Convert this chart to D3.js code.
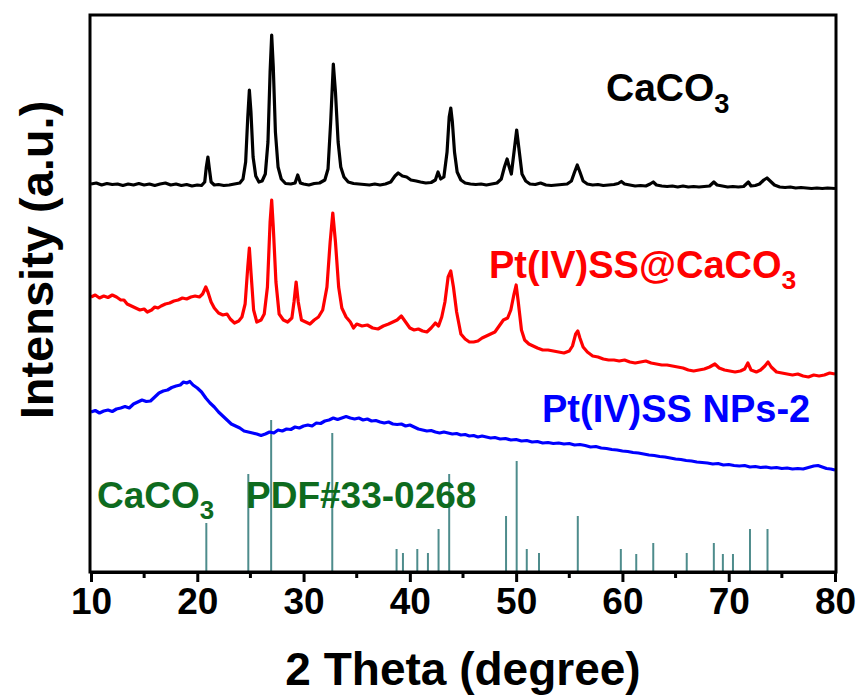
<!DOCTYPE html>
<html>
<head>
<meta charset="utf-8">
<script src="https://cdn.jsdelivr.net/npm/d3@7"></script>
<style>
  html, body { margin: 0; padding: 0; background: #fff; }
  svg { display: block; font-family: "Liberation Sans", Arial, sans-serif; font-weight: bold; }
</style>
</head>
<body>
<svg id="chart" width="862" height="696"></svg>
<script>
// ---------- DATA ----------
const xTicks = [10, 20, 30, 40, 50, 60, 70, 80];
const xMinorTicks = [15, 25, 35, 45, 55, 65, 75];

// CaCO3 (black) : [2theta, intensity a.u.]
const caco3 = [
[10,388],[10.5,389],[11,387],[11.5,388.5],[12,387.5],[12.5,388],[13,386.5],[13.5,388],[14,387],[14.5,388.5],
[15,387],[15.5,388],[16,386.5],[16.5,388],[17,389],[17.5,387],[18,388],[18.5,386.5],[19,387.5],[19.5,386],
[20,387],[20.4,386.5],[20.7,390],[20.85,405],[21.0,415],[21.15,402],[21.3,390],[21.6,387],[22,387.5],[22.5,386.5],
[23,387],[23.5,388],[24,389],[24.3,393],[24.55,410],[24.75,455],[24.9,482],[25.05,460],[25.25,415],[25.5,396],
[25.8,390],[26.1,391],[26.4,398],[26.65,430],[26.85,500],[27.0,537],[27.15,505],[27.35,440],[27.6,405],[27.9,393],
[28.3,388.5],[28.8,388],[29.2,389],[29.45,397],[29.7,389],[30.0,388],[30.5,387],[31,388.5],[31.5,389],[32,392],
[32.3,403],[32.55,450],[32.8,508],[33.0,480],[33.25,430],[33.5,405],[33.8,395],[34.2,390],[34.7,388.5],[35.2,388],
[35.7,387.5],[36.2,387],[36.7,388],[37.2,387],[37.7,388],[38.2,390],[38.6,396],[38.9,399],[39.3,396],[39.7,395],
[40.1,392],[40.6,391],[41,390],[41.5,389],[42,389.5],[42.4,392],[42.65,400],[42.9,393],[43.2,395],[43.5,420],
[43.7,455],[43.85,464],[44.0,450],[44.2,420],[44.45,400],[44.8,392],[45.2,389],[45.7,388],[46.2,387.5],[46.7,388],
[47.2,387],[47.7,388],[48.2,389],[48.6,393],[48.9,405],[49.15,413],[49.35,405],[49.55,398],[49.8,420],[50.05,442],
[50.3,420],[50.55,398],[50.9,391],[51.3,388],[51.8,387.5],[52.3,389],[52.8,387],[53.3,386.5],[53.8,387],[54.3,387.5],
[54.8,388],[55.2,391],[55.5,400],[55.75,407],[56.0,400],[56.3,391],[56.7,388],[57.2,387],[57.7,387.5],[58.2,386.5],
[58.7,387],[59.2,387.5],[59.6,388.5],[59.9,390.5],[60.2,388],[60.7,387],[61.2,386],[61.7,386.5],[62.2,386],[62.6,388],
[62.9,390],[63.2,387],[63.7,386],[64.2,385.5],[64.7,386],[65.2,385],[65.7,386],[66.2,385],[66.7,385.5],[67.2,385],
[67.7,385.5],[68.2,386],[68.6,390],[68.9,387],[69.4,386],[69.9,385],[70.4,385.5],[70.9,385],[71.4,385.5],[71.85,390],
[72.1,386],[72.5,386.5],[72.9,388],[73.3,392],[73.6,394],[73.9,391],[74.3,387],[74.8,385],[75.3,384.5],[75.8,385],
[76.3,384],[76.8,384.5],[77.3,384],[77.8,383.5],[78.3,384],[78.8,383.5],[79.3,384],[80,383.5]
];

// Pt(IV)SS@CaCO3 (red)
const ptssCaco3 = [
[10,275],[10.4,277],[10.8,274],[11.2,276],[11.6,274.5],[12.0,277],[12.4,275],[12.8,272],[13.1,272],[13.4,268],
[13.8,266],[14.2,264],[14.6,262],[15.0,263],[15.3,260],[15.7,262],[16.0,265],[16.3,264],[16.6,266],[17.0,268],
[17.4,269],[17.8,271],[18.2,272],[18.6,274],[19.0,273],[19.4,275],[19.8,276],[20.2,275],[20.5,278],[20.8,285],
[21.0,280],[21.3,270],[21.6,264],[22.0,259],[22.4,257],[22.8,258],[23.1,253],[23.5,249],[23.9,251],[24.2,255],
[24.5,268],[24.75,305],[24.9,324],[25.05,300],[25.3,262],[25.6,250],[26.0,252],[26.3,258],[26.6,285],[26.85,350],
[27.0,372],[27.15,345],[27.4,290],[27.7,258],[28.1,252],[28.5,250],[28.9,254],[29.1,270],[29.3,290],[29.5,270],
[29.8,252],[30.2,250],[30.6,248],[31.0,252],[31.4,255],[31.8,262],[32.2,285],[32.5,330],[32.75,359],[33.0,330],
[33.3,285],[33.6,264],[34.0,255],[34.4,250],[34.7,244],[35.0,248],[35.5,246],[36.0,247],[36.5,244],[37.0,243],
[37.5,246],[38.0,248],[38.4,250],[38.8,252],[39.2,256],[39.6,250],[40.0,244],[40.4,242],[40.8,243],[41.2,241],
[41.6,240],[42.0,244],[42.4,249],[42.7,246],[43.0,255],[43.3,270],[43.6,295],[43.85,301],[44.1,285],[44.4,260],
[44.8,238],[45.2,233],[45.6,230],[46.0,230],[46.4,231],[46.8,234],[47.2,236],[47.6,238],[48.0,240],[48.4,246],
[48.8,252],[49.2,254],[49.5,262],[49.8,278],[50.0,287],[50.2,270],[50.5,242],[50.8,232],[51.2,228],[51.6,226],
[52.0,224],[52.5,222],[53.0,222],[53.5,221],[54.0,220],[54.5,219],[55.0,221],[55.3,226],[55.6,238],[55.8,241],
[56.0,234],[56.3,225],[56.7,220],[57.2,216],[57.7,215],[58.2,213],[58.7,212],[59.2,212],[59.7,211],[60.2,212],
[60.7,210],[61.2,209],[61.7,210],[62.2,211],[62.7,209],[63.2,208],[63.7,207],[64.2,207],[64.7,206],[65.2,205],
[65.7,204],[66.2,202],[66.7,201],[67.2,202],[67.7,203],[68.2,205],[68.7,208],[69.1,204],[69.6,202],[70.1,201],
[70.6,200],[71.1,201],[71.5,203],[71.8,209],[72.1,202],[72.6,200],[73.0,202],[73.4,206],[73.7,210],[74.0,205],
[74.5,200],[75.0,199],[75.5,198],[76.0,197],[76.5,198],[77.0,196],[77.5,195],[78.0,197],[78.5,196],[79.0,197],
[79.5,199],[80.0,198]
];

// Pt(IV)SS NPs-2 (blue)
const ptssNps = [
[10,160],[10.4,161.5],[10.8,159],[11.2,161],[11.6,162],[12.0,160.5],[12.4,163],[12.8,164],[13.2,165.5],[13.6,164],
[14.0,168],[14.4,170],[14.8,172],[15.2,170.5],[15.6,171],[16.0,175],[16.4,179],[16.8,181],[17.2,182],[17.6,184.5],
[18.0,186],[18.4,187],[18.7,190],[19.0,189],[19.3,190.5],[19.6,187],[20.0,184],[20.4,180],[20.8,174],[21.2,169],
[21.6,165],[22.0,160],[22.4,156],[22.8,152],[23.2,148],[23.6,146],[24.0,144],[24.4,141],[24.8,140],[25.2,139],
[25.6,138],[26.0,136.5],[26.4,138],[26.8,140],[27.2,139],[27.6,142],[28.0,141],[28.4,143],[28.8,142.5],[29.2,145],
[29.6,144],[30.0,146],[30.4,147],[30.8,146],[31.2,149],[31.6,148.5],[32.0,151],[32.4,152],[32.8,154],[33.2,152.5],
[33.6,154],[34.0,155.5],[34.4,154],[34.8,153],[35.2,154],[35.6,152],[36.0,153],[36.4,151],[36.8,151.5],[37.2,150],
[37.6,149],[38.0,150],[38.4,148],[38.8,147.5],[39.2,148],[39.6,146],[40.0,147],[40.4,145],[40.8,143],[41.2,142],
[41.6,141],[42.0,141.5],[42.4,140],[42.8,139],[43.2,140],[43.6,139],[44.0,138],[44.4,138.5],[44.8,137],[45.2,137.5],
[45.6,136],[46.0,136.5],[46.4,135],[46.8,136],[47.2,135],[47.6,134],[48.0,134.5],[48.5,133],[49.0,133.5],[49.5,132],
[50.0,132.5],[50.5,131],[51.0,131.5],[51.5,130],[52.0,130.5],[52.5,129],[53.0,129.5],[53.5,128.5],[54.0,129],[54.5,128],
[55.0,128.5],[55.5,127],[56.0,127.5],[56.5,126.5],[57.0,125],[57.5,125.5],[58.0,124],[58.5,123.5],[59.0,122.5],[59.5,122],
[60.0,121],[60.5,120.5],[61.0,119.5],[61.5,119],[62.0,118],[62.5,117],[63.0,116.5],[63.5,115.5],[64.0,115],[64.5,114],
[65.0,113],[65.5,112.5],[66.0,111.5],[66.5,111],[67.0,110],[67.5,109.5],[68.0,109],[68.5,108],[69.0,108.5],[69.5,107],
[70.0,107.5],[70.5,106.5],[71.0,106],[71.5,106.5],[72.0,105],[72.5,105.5],[73.0,104.5],[73.5,105],[74.0,104],[74.5,104.5],
[75.0,103.5],[75.5,104],[76.0,103],[76.5,103.5],[77.0,103],[77.5,104.5],[78.0,106],[78.4,106.5],[78.8,105],[79.2,103.5],
[79.6,103],[80.0,102]
];

// Reference pattern CaCO3 PDF#33-0268 : [2theta, relative intensity a.u.]
const refPositions = [20.85, 24.8, 26.95, 32.7, 38.75, 39.35, 40.7, 41.7, 42.7, 43.7, 49.05, 50.05, 51.0, 52.15, 55.8, 59.85, 61.3, 62.9, 66.05, 68.6, 69.45, 70.4, 72.0, 73.65];
const refIntensities = [49, 98, 152, 139, 23, 19, 23, 19, 43, 98, 56, 111, 23, 19, 56, 23, 18, 29, 19, 29, 18, 18, 43, 43];

// ---------- CHART ----------
const svg = d3.select("#chart");
const L = 91, R = 835, T = 15, B = 572;
const x = d3.scaleLinear().domain([10, 80]).range([L, R]);
const y = d3.scaleLinear().domain([0, 557]).range([B, T]);

// reference sticks
const refData = refPositions.map((p, i) => ({ p, v: refIntensities[i] }));
svg.append("g").selectAll("line").data(refData).join("line")
  .attr("x1", d => x(d.p)).attr("x2", d => x(d.p))
  .attr("y1", y(0)).attr("y2", d => y(d.v))
  .attr("stroke", "#4e8c8c").attr("stroke-width", 2);

// curves
const line = d3.line().x(d => x(d[0])).y(d => y(d[1]));
[[ptssNps, "#0000ff"], [ptssCaco3, "#ff0000"], [caco3, "#000000"]].forEach(([data, c]) => {
  svg.append("path").datum(data).attr("d", line)
    .attr("fill", "none").attr("stroke", c).attr("stroke-width", 3.2)
    .attr("stroke-linejoin", "round");
});

// frame
svg.append("rect").attr("x", L - 1).attr("y", T).attr("width", R - L + 2).attr("height", B - T)
  .attr("fill", "none").attr("stroke", "#000").attr("stroke-width", 3);

// bottom axis
const ax = svg.append("g").attr("transform", `translate(0,${B})`)
  .call(d3.axisBottom(x).tickValues(xTicks).tickSize(10).tickPadding(6).tickFormat(d3.format("d")));
ax.select(".domain").attr("stroke-width", 3);
ax.selectAll(".tick line").attr("stroke-width", 3);
ax.selectAll(".tick text").attr("font-size", 37).attr("font-weight", "bold")
  .attr("font-family", "Liberation Sans, Arial, sans-serif").attr("fill", "#000");
svg.append("g").selectAll("line").data(xMinorTicks).join("line")
  .attr("x1", d => x(d)).attr("x2", d => x(d))
  .attr("y1", B).attr("y2", B + 6)
  .attr("stroke", "#000").attr("stroke-width", 3);

// axis titles
svg.append("text").attr("x", (L + R) / 2).attr("y", 685).attr("text-anchor", "middle")
  .attr("font-size", 46).text("2 Theta (degree)");
svg.append("text").attr("transform", "translate(53,260) rotate(-90)").attr("text-anchor", "middle")
  .attr("font-size", 47).text("Intensity (a.u.)");

// series labels
function label(xp, yp, main, sub, color, size) {
  const t = svg.append("text").attr("x", xp).attr("y", yp).attr("fill", color).attr("font-size", size);
  t.append("tspan").text(main);
  t.append("tspan").attr("font-size", size * 0.7).attr("dy", size * 0.3).text(sub);
  return t;
}
label(606, 101, "CaCO", "3", "#000", 39);
label(489, 278, "Pt(IV)SS@CaCO", "3", "#ff0000", 38);
svg.append("text").attr("x", 542).attr("y", 422).attr("fill", "#0000ff").attr("font-size", 38).text("Pt(IV)SS NPs-2");
label(97, 508, "CaCO", "3", "#0e6b1e", 37);
svg.append("text").attr("x", 246).attr("y", 508).attr("fill", "#0e6b1e").attr("font-size", 37).text("PDF#33-0268");
</script>
</body>
</html>
